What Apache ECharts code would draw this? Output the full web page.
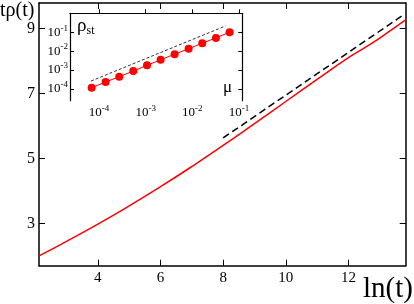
<!DOCTYPE html>
<html><head><meta charset="utf-8">
<script src="https://cdn.jsdelivr.net/npm/echarts@6/dist/echarts.min.js"></script>
<style>html,body{margin:0;padding:0;background:#fff}#c{width:414px;height:304px}</style>
</head><body><div id="c"></div>
<script>
// main curve: ln(t) vs t*rho(t)
var lnT   = [2.12, 3, 4, 5, 6, 7, 8, 9, 10, 11, 12, 12.5, 13, 13.5, 13.83];
var tRho  = [2.0, 2.45, 2.98, 3.54, 4.13, 4.75, 5.40, 6.07, 6.75, 7.43, 8.1, 8.39, 8.7, 9.04, 9.26];
var guideX = [8.0, 13.78];
var guideY = [5.63, 9.43];
var mainXTicks = [4, 6, 8, 10, 12];
var mainYTicks = [3, 5, 7, 9];
// inset: mu vs rho_st
var mu    = [6.97e-5, 1.39e-4, 2.72e-4, 5.43e-4, 1.07e-3, 2.09e-3, 4.17e-3, 8.32e-3, 1.63e-2, 3.20e-2, 6.28e-2];
var rhoSt = [1.17e-4, 2.34e-4, 4.47e-4, 8.9e-4, 1.78e-3, 3.47e-3, 6.9e-3, 1.32e-2, 2.63e-2, 5.0e-2, 0.1];
var insetGuideMu  = [6.76e-5, 5.13e-2];
var insetGuideRho = [2.63e-4, 0.214];
var insetDecades = [-4, -3, -2, -1];

var F = 'Liberation Serif, Times New Roman, serif';
function zip(a, b) { return a.map(function (v, i) { return [v, b[i]]; }); }
function zipLog(a, b) { return a.map(function (v, i) { return [Math.log10(v), Math.log10(b[i])]; }); }
function pow10(v) { return '{b|10}{s|' + Math.round(v) + '}'; }
var powRich = { b: { fontSize: 13, fontFamily: F, color: '#000' }, s: { fontSize: 9, fontFamily: F, color: '#000', padding: [0, 0, 8, 0] } };

var chart = echarts.init(document.getElementById('c'), null, { renderer: 'canvas' });
var axLine = { show: true, lineStyle: { color: '#000', width: 1.5 } };
var option = {
  animation: false,
  backgroundColor: '#fff',
  grid: [
    { left: 39, top: 3, width: 366.7, height: 262.7 },
    { left: 70, top: 13.3, width: 172.3, height: 87.4 }
  ],
  xAxis: [
    { gridIndex: 0, type: 'value', min: 2.12, max: 13.83, position: 'bottom',
      axisLine: axLine, splitLine: { show: false },
      axisTick: { show: true, inside: true, length: 6, customValues: mainXTicks, lineStyle: { color: '#000', width: 1 } },
      axisLabel: { show: true, customValues: mainXTicks, fontSize: 15, fontFamily: F, color: '#000', margin: 5 } },
    { gridIndex: 0, type: 'value', min: 2.12, max: 13.83, position: 'top',
      axisLine: axLine, splitLine: { show: false },
      axisTick: { show: true, inside: true, length: 6, customValues: mainXTicks, lineStyle: { color: '#000', width: 1 } },
      axisLabel: { show: false } },
    { gridIndex: 1, type: 'value', min: -4.62, max: -0.93, position: 'bottom',
      axisLine: { show: true, lineStyle: { color: '#000', width: 1.2 } }, splitLine: { show: false },
      axisTick: { show: true, inside: true, length: 4, customValues: insetDecades, lineStyle: { color: '#000', width: 1 } },
      axisLabel: { show: true, customValues: insetDecades, margin: 3, formatter: pow10, rich: powRich } }
  ],
  yAxis: [
    { gridIndex: 0, type: 'value', min: 1.7, max: 9.78, position: 'left',
      axisLine: axLine, splitLine: { show: false },
      axisTick: { show: true, inside: true, length: 6, customValues: mainYTicks, lineStyle: { color: '#000', width: 1 } },
      axisLabel: { show: true, customValues: mainYTicks, fontSize: 16, fontFamily: F, color: '#000', margin: 4 } },
    { gridIndex: 0, type: 'value', min: 1.7, max: 9.78, position: 'right',
      axisLine: axLine, splitLine: { show: false },
      axisTick: { show: true, inside: true, length: 6, customValues: mainYTicks, lineStyle: { color: '#000', width: 1 } },
      axisLabel: { show: false } },
    { gridIndex: 1, type: 'value', min: -4.62, max: 0, position: 'left',
      axisLine: { show: true, lineStyle: { color: '#000', width: 1.2 } }, splitLine: { show: false },
      axisTick: { show: true, inside: true, length: 4, customValues: insetDecades, lineStyle: { color: '#000', width: 1 } },
      axisLabel: { show: true, customValues: insetDecades, margin: 2, formatter: pow10, rich: powRich } },
    { gridIndex: 1, type: 'value', min: -4.62, max: 0, position: 'right',
      axisLine: { show: true, lineStyle: { color: '#000', width: 1.2 } }, splitLine: { show: false },
      axisTick: { show: true, inside: true, length: 4, customValues: insetDecades, lineStyle: { color: '#000', width: 1 } },
      axisLabel: { show: false } }
  ],
  series: [
    { type: 'line', xAxisIndex: 0, yAxisIndex: 0, data: zip(lnT, tRho), smooth: 0.5, showSymbol: false,
      lineStyle: { color: '#ff0000', width: 1.5 } },
    { type: 'line', xAxisIndex: 0, yAxisIndex: 0, data: zip(guideX, guideY), showSymbol: false,
      lineStyle: { color: '#000', width: 1.5, type: [7, 4] } },
    { type: 'line', xAxisIndex: 2, yAxisIndex: 2, data: zipLog(insetGuideMu, insetGuideRho), showSymbol: false,
      lineStyle: { color: '#000', width: 0.8, type: [3, 2] } },
    { type: 'line', xAxisIndex: 2, yAxisIndex: 2, data: zipLog(mu, rhoSt), symbol: 'circle', symbolSize: 8,
      itemStyle: { color: '#ff0000' }, lineStyle: { color: '#ff0000', width: 1 } }
  ],
  graphic: [
    { type: 'text', left: 0, top: 1, style: { text: 'tρ(t)', font: '20px ' + F, fill: '#000' } },
    { type: 'text', left: 363, top: 275, style: { text: 'ln(t)', font: '29px ' + F, fill: '#000' } },
    { type: 'text', left: 77, top: 17, style: { text: '{r|ρ}{s|st}', rich: {
        r: { fontSize: 19, fontFamily: F, fill: '#000' },
        s: { fontSize: 12, fontFamily: F, fill: '#000', padding: [8, 0, 0, 0] } } } },
    { type: 'text', left: 223, top: 79, style: { text: 'μ', font: '17px ' + F, fill: '#000' } }
  ]
};
chart.setOption(option);
</script></body></html>
